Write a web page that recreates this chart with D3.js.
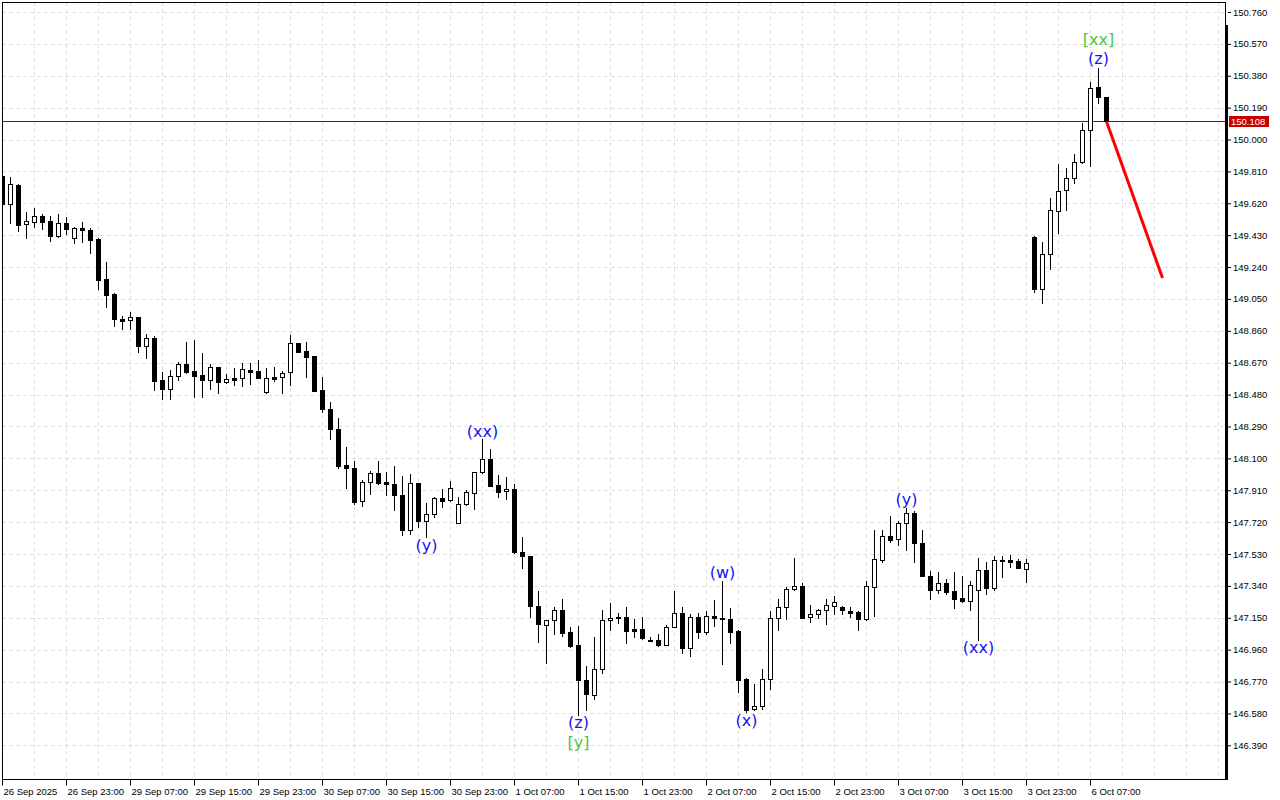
<!DOCTYPE html>
<html><head><meta charset="utf-8">
<script src="https://cdn.jsdelivr.net/npm/d3@7"></script>
<style>body{margin:0;background:#fff}svg{display:block}</style>
</head><body><svg id="c" width="1280" height="800"></svg>
<script>
// ---- data (H1 bars, index 0 = 26 Sep 2025 15:00) ----
const opens = [149.783,149.614,149.729,149.495,149.510,149.544,149.514,149.427,149.503,149.411,149.471,149.461,149.409,149.169,149.079,148.930,148.923,148.942,148.768,148.815,148.567,148.515,148.589,148.662,148.621,148.597,148.569,148.643,148.557,148.579,148.577,148.625,148.619,148.494,148.585,148.583,148.613,148.786,148.740,148.708,148.507,148.392,148.275,148.060,148.042,147.844,147.957,148.011,147.959,147.945,147.882,147.675,147.951,147.725,147.767,147.864,147.850,147.717,147.826,147.895,148.017,148.094,147.941,147.904,147.916,147.540,147.516,147.218,147.105,147.135,147.194,147.063,146.988,146.777,146.690,146.845,147.135,147.156,147.156,147.081,147.083,147.017,147.017,146.989,147.093,147.176,146.968,147.154,147.067,147.160,147.150,147.141,147.071,146.785,146.604,146.626,146.783,147.149,147.212,147.320,147.338,147.153,147.171,147.198,147.222,147.214,147.190,147.182,147.141,147.335,147.494,147.637,147.618,147.713,147.773,147.594,147.397,147.314,147.355,147.308,147.268,147.252,147.314,147.433,147.326,147.494,147.494,147.488,147.442,149.417,149.107,149.316,149.572,149.697,149.769,149.864,150.057,150.311,150.252];
const highs = [149.795,149.779,149.735,149.570,149.594,149.558,149.544,149.558,149.538,149.481,149.509,149.473,149.415,149.270,149.085,148.950,148.972,148.945,148.841,148.829,148.615,148.625,148.676,148.793,148.805,148.728,148.664,148.645,148.601,148.637,148.668,148.668,148.684,148.638,148.644,148.621,148.835,148.790,148.792,148.712,148.587,148.438,148.340,148.166,148.084,147.971,148.026,148.084,148.019,148.054,147.995,148.007,147.955,147.832,147.871,147.916,147.965,147.871,147.911,148.020,148.215,148.156,147.999,147.987,147.947,147.630,147.520,147.309,147.137,147.216,147.260,147.097,147.103,146.863,147.035,147.196,147.236,147.180,147.216,147.141,147.153,147.037,147.053,147.107,147.309,147.216,147.171,147.176,147.190,147.256,147.369,147.210,147.075,146.793,146.755,146.843,147.190,147.262,147.331,147.506,147.355,147.226,147.200,147.262,147.280,147.218,147.216,147.190,147.369,147.673,147.673,147.756,147.728,147.804,147.786,147.673,147.429,147.421,147.381,147.425,147.401,147.371,147.504,147.484,147.520,147.520,147.526,147.502,147.502,149.425,149.388,149.650,149.854,149.830,149.912,150.098,150.343,150.428,150.252];
const lows = [149.604,149.504,149.455,149.415,149.480,149.467,149.395,149.420,149.439,149.385,149.391,149.326,149.107,149.004,148.890,148.873,148.873,148.734,148.700,148.509,148.452,148.452,148.567,148.611,148.467,148.467,148.513,148.491,148.547,148.537,148.533,148.545,148.577,148.492,148.563,148.488,148.537,148.733,148.587,148.500,148.378,148.214,148.041,147.925,147.826,147.818,147.886,147.947,147.883,147.794,147.641,147.649,147.689,147.633,147.752,147.812,147.848,147.715,147.824,147.800,148.015,147.935,147.871,147.856,147.538,147.445,147.153,147.004,146.882,147.053,147.041,146.978,146.571,146.600,146.666,146.823,147.077,147.117,147.001,147.037,147.026,147.012,146.983,146.987,147.093,146.940,146.924,147.031,147.055,147.101,146.876,146.998,146.709,146.587,146.602,146.605,146.725,147.077,147.141,147.318,147.148,147.127,147.150,147.115,147.172,147.174,147.153,147.079,147.139,147.162,147.480,147.603,147.582,147.556,147.484,147.397,147.264,147.296,147.294,147.206,147.245,147.196,147.017,147.294,147.315,147.395,147.451,147.445,147.365,149.093,149.028,149.227,149.441,149.578,149.739,149.862,149.844,150.220,150.108];
const closes = [149.616,149.733,149.491,149.514,149.544,149.510,149.427,149.503,149.469,149.471,149.461,149.403,149.165,149.075,148.929,148.920,148.942,148.768,148.815,148.563,148.515,148.589,148.662,148.615,148.593,148.567,148.643,148.557,148.571,148.569,148.631,148.615,148.581,148.577,148.575,148.609,148.786,148.736,148.706,148.503,148.392,148.273,148.056,148.041,147.842,147.957,148.011,147.953,147.945,147.880,147.675,147.951,147.728,147.768,147.862,147.848,147.922,147.828,147.898,148.017,148.094,147.937,147.901,147.916,147.540,147.516,147.218,147.111,147.135,147.194,147.061,146.983,146.779,146.697,146.845,147.135,147.149,147.147,147.073,147.073,147.028,147.013,146.989,147.097,147.176,146.968,147.154,147.067,147.160,147.150,147.141,147.067,146.779,146.600,146.626,146.783,147.149,147.212,147.321,147.338,147.150,147.171,147.198,147.224,147.242,147.194,147.180,147.141,147.339,147.500,147.637,147.615,147.713,147.773,147.594,147.399,147.314,147.355,147.305,147.264,147.248,147.343,147.433,147.326,147.492,147.488,147.484,147.445,147.475,149.107,149.316,149.578,149.695,149.769,149.864,150.057,150.309,150.252,150.108];

const currentPrice = 150.108;
const forecastIdx = [138, 145];
const forecastPrice = [150.108, 149.175];

const yTicks = [150.760,150.570,150.380,150.190,150.000,149.810,149.620,149.430,149.240,149.050,148.860,148.670,148.480,148.290,148.100,147.910,147.720,147.530,147.340,147.150,146.960,146.770,146.580,146.390];
const xTickIdx = [0,8,16,24,32,40,48,56,64,72,80,88,96,104,112,120,128,136];
const xTickLabels = ["26 Sep 2025","26 Sep 23:00","29 Sep 07:00","29 Sep 15:00","29 Sep 23:00","30 Sep 07:00","30 Sep 15:00","30 Sep 23:00","1 Oct 07:00","1 Oct 15:00","1 Oct 23:00","2 Oct 07:00","2 Oct 15:00","2 Oct 23:00","3 Oct 07:00","3 Oct 15:00","3 Oct 23:00","6 Oct 07:00"];

const waveText  = ["(xx)","(y)","(z)","[y]","(w)","(x)","(y)","(xx)","(z)","[xx]"];
const waveIdx   = [60,53,72,72,90,93,113,122,137,137];
const wavePrice = [148.257,147.578,146.520,146.404,147.417,146.535,147.852,146.967,150.480,150.596];
const waveLevel = ["minor","minor","minor","major","minor","minor","minor","minor","minor","major"];

// ---- layout ----
const svg = d3.select("#c");
const PL = 2, PR = 1225, PT = 2, PB = 779;
const x = d3.scaleLinear().domain([0, 1]).range([2.5, 10.5]);
const y = d3.scaleLinear().domain([146.39, 150.76]).range([745.3, 12]);
const crisp = v => Math.round(v) + 0.5;

svg.append("rect").attr("width",1280).attr("height",800).attr("fill","#fff");

svg.append("clipPath").attr("id","plot").append("rect")
  .attr("x",PL).attr("y",PT).attr("width",PR-PL).attr("height",PB-PT);

// grid
const grid = svg.append("g").attr("stroke","#e0e0e0").attr("stroke-dasharray","4,3").attr("stroke-width",1);
yTicks.forEach(t => {
  grid.append("line").attr("x1",PL).attr("x2",PR).attr("y1",crisp(y(t))).attr("y2",crisp(y(t)));
});
for (let i = 4; x(i) < PR; i += 4) {
  grid.append("line").attr("x1",x(i)).attr("x2",x(i)).attr("y1",PT).attr("y2",PB);
}

// current price line
svg.append("line").attr("x1",PL).attr("x2",PR)
  .attr("y1",crisp(y(currentPrice))).attr("y2",crisp(y(currentPrice)))
  .attr("stroke","#a80000").attr("stroke-width",1);

// candles
const bars = d3.range(opens.length).map(i => ({i, o:opens[i], h:highs[i], l:lows[i], c:closes[i]}));
const cg = svg.append("g").attr("clip-path","url(#plot)");
bars.forEach(d => {
  const cx = x(d.i);
  cg.append("line").attr("x1",cx).attr("x2",cx)
    .attr("y1",Math.round(y(d.h))).attr("y2",Math.round(y(d.l))+1)
    .attr("stroke","#000").attr("stroke-width",1);
  const top = Math.round(y(Math.max(d.o,d.c)));
  const bot = Math.round(y(Math.min(d.o,d.c)));
  const bull = d.c >= d.o;
  if (bot - top < 1) {
    cg.append("line").attr("x1",cx-2.5).attr("x2",cx+2.5)
      .attr("y1",top+0.5).attr("y2",top+0.5).attr("stroke","#000");
  } else {
    cg.append("rect").attr("x",cx-2).attr("y",top+0.5)
      .attr("width",4).attr("height",bot-top)
      .attr("fill", bull ? "#fff" : "#000").attr("stroke","#000").attr("stroke-width",1);
  }
});

// forecast line
svg.append("path")
  .datum(forecastIdx.map((k,j)=>[k,forecastPrice[j]]))
  .attr("d", d3.line().x(d=>x(d[0])).y(d=>y(d[1])))
  .attr("fill","none").attr("stroke","#ff0000").attr("stroke-width",3);

// wave labels
svg.append("g").selectAll("text").data(waveText).join("text")
  .attr("x",(d,j)=>x(waveIdx[j]))
  .attr("y",(d,j)=>y(wavePrice[j])+5)
  .attr("text-anchor","middle")
  .attr("font-family","DejaVu Sans, sans-serif")
  .attr("font-size",16)
  .attr("fill",(d,j)=>waveLevel[j]==="major" ? "#4cc63c" : "#1414f0")
  .text(d=>d);

// frame
svg.append("rect").attr("x",PL+0.5).attr("y",PT+0.5).attr("width",PR-PL).attr("height",PB-PT)
  .attr("fill","none").attr("stroke","#000").attr("stroke-width",1);
svg.append("rect").attr("x",PR).attr("y",25).attr("width",3).attr("height",PB-25+1).attr("fill","#000");

// y axis
const ya = svg.append("g").attr("transform",`translate(${PR+3},0)`)
  .call(d3.axisRight(y).tickValues(yTicks).tickFormat(d3.format(".3f")).tickSize(3).tickPadding(2));
ya.select(".domain").remove();
ya.selectAll("text").attr("font-family","Liberation Sans, Arial, sans-serif").attr("font-size",9.5).attr("fill","#000");

// current price tag
const tag = svg.append("g").attr("transform",`translate(1229,${Math.round(y(currentPrice))-5})`);
tag.append("rect").attr("width",40).attr("height",11).attr("fill","#c80000");
tag.append("text").attr("x",2).attr("y",9).attr("fill","#fff")
  .attr("font-family","Liberation Sans, Arial, sans-serif").attr("font-size",9.5).text(d3.format(".3f")(currentPrice));

// x axis
const xa = svg.append("g").attr("transform",`translate(0,${PB+0.5})`)
  .call(d3.axisBottom(x).tickValues(xTickIdx).tickFormat((d,j)=>xTickLabels[j]).tickSize(6).tickPadding(3).offset(0));
xa.select(".domain").remove();
xa.selectAll("text").attr("text-anchor","start").attr("dx",1)
  .attr("font-family","Liberation Sans, Arial, sans-serif").attr("font-size",9.5).attr("fill","#000");
</script></body></html>
